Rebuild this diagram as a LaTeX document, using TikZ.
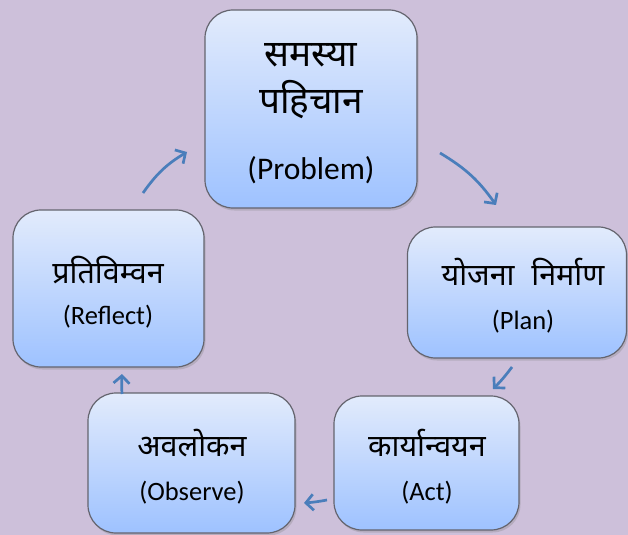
\documentclass[tikz,border=0pt]{standalone}
\usepackage{fontspec}
\setmainfont{Carlito}
\newfontfamily\dev[Script=Devanagari]{Noto Sans}
\usetikzlibrary{shadows,arrows.meta}
\definecolor{bg}{RGB}{205,192,218}
\definecolor{boxtop}{RGB}{226,235,252}
\definecolor{boxbot}{RGB}{158,194,255}
\definecolor{arr}{RGB}{74,126,187}
\definecolor{edge}{RGB}{100,100,110}
\begin{document}
\begin{tikzpicture}[x=1bp,y=-1bp,
  box/.style={draw=edge, line width=1.2bp, rounded corners=28bp, top color=boxtop, bottom color=boxbot,
    inner sep=0pt, drop shadow={opacity=0.3, shadow xshift=1.5bp, shadow yshift=-2.5bp}},
  big/.style={font=\fontsize{31.5bp}{36bp}\selectfont, inner sep=0pt},
  small/.style={font=\fontsize{26.5bp}{30bp}\selectfont, inner sep=0pt},
  bigdev/.style={font=\fontsize{37bp}{42bp}\dev, inner sep=0pt},
  smalldev/.style={font=\fontsize{30.5bp}{36bp}\dev, inner sep=0pt},
  cyc/.style={draw=arr, line width=2.7bp, -{Straight Barb[length=7.5bp,width=16bp]}}]
\fill[bg] (0,0) rectangle (628,535);
\useasboundingbox (0,0) rectangle (628,535);
% boxes
\node[box, minimum width=212bp, minimum height=198bp] (prob) at (311,109) {};
\node[box, minimum width=191bp, minimum height=157bp] (refl) at (108.5,288.5) {};
\node[box, minimum width=219bp, minimum height=131bp] (plan) at (517,292.5) {};
\node[box, minimum width=207bp, minimum height=140bp] (obs) at (191.5,463) {};
\node[box, minimum width=185bp, minimum height=134bp] (act) at (426.5,463) {};
% texts
\node[bigdev] (t1a) at (311,55) {समस्या};
\node[bigdev] (t1b) at (311,100) {पहिचान};
\node[big] (t1c) at (311,170) {(Problem)};
\node[smalldev] (t2a) at (108,270) {प्रतिविम्वन};
\node[small] (t2b) at (108,317) {(Reflect)};
\node[smalldev] (t3a) at (523,272) {योजना\hspace{0.55em}निर्माण};
\node[small] (t3b) at (523,322) {(Plan)};
\node[smalldev] (t4a) at (192,443) {अवलोकन};
\node[small] (t4b) at (192,493) {(Observe)};
\node[smalldev] (t5a) at (427,443) {कार्यान्वयन};
\node[small] (t5b) at (427,493) {(Act)};
% arrow end points
\coordinate (a1s) at (143,193); \coordinate (a1e) at (187,152);
\coordinate (a2s) at (440,153); \coordinate (a2e) at (496,205);
\coordinate (a3s) at (512,367); \coordinate (a3e) at (493,389);
\coordinate (a4s) at (327,500); \coordinate (a4e) at (304,503);
\coordinate (a5s) at (122,394); \coordinate (a5e) at (122,374);
\draw[cyc] (a1s) to[bend left=12] (a1e);
\draw[cyc] (a2s) to[bend left=12] (a2e);
\draw[cyc] (a3s) to[bend left=4] (a3e);
\draw[cyc] (a4s) to[bend left=3] (a4e);
\draw[cyc] (a5s) to[bend left=3] (a5e);
\end{tikzpicture}
\end{document}
